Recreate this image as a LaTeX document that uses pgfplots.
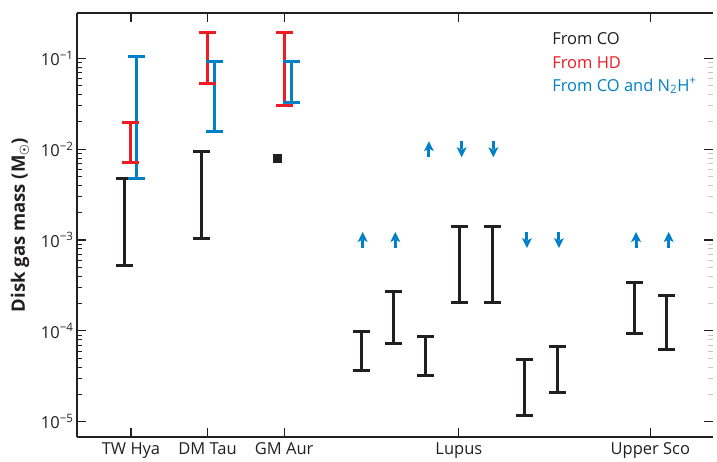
\documentclass[border=0pt]{standalone}
\usepackage{amsmath}
\usepackage{pgfplots}
\pgfplotsset{compat=1.18}
\usepackage{fontspec}
\setmainfont{Open Sans}
\usetikzlibrary{calc}
\definecolor{cblack}{HTML}{231F20}
\definecolor{cred}{HTML}{ED1C24}
\definecolor{cblue}{HTML}{0080C6}

\pgfdeclareplotmark{uarr}{%
  \pgfsetlinewidth{3pt}%
  \pgfpathmoveto{\pgfpoint{0pt}{-8pt}}\pgfpathlineto{\pgfpoint{0pt}{0pt}}\pgfusepathqstroke
  \pgfpathmoveto{\pgfpoint{0pt}{8pt}}\pgfpathlineto{\pgfpoint{-5pt}{-2pt}}%
  \pgfpathlineto{\pgfpoint{0pt}{0.5pt}}\pgfpathlineto{\pgfpoint{5pt}{-2pt}}\pgfpathclose\pgfusepathqfill}
\pgfdeclareplotmark{darr}{%
  \pgfsetlinewidth{3pt}%
  \pgfpathmoveto{\pgfpoint{0pt}{8pt}}\pgfpathlineto{\pgfpoint{0pt}{0pt}}\pgfusepathqstroke
  \pgfpathmoveto{\pgfpoint{0pt}{-8pt}}\pgfpathlineto{\pgfpoint{-5pt}{2pt}}%
  \pgfpathlineto{\pgfpoint{0pt}{-0.5pt}}\pgfpathlineto{\pgfpoint{5pt}{2pt}}\pgfpathclose\pgfusepathqfill}

\newcommand{\fs}{\fontsize{16.5}{19}\selectfont}
\newcommand{\fl}{\fontsize{18.5}{21}\selectfont}

\begin{document}
\begin{tikzpicture}
\begin{axis}[
  scale only axis, width=636pt, height=424pt,
  ymode=log, ymin=6.78e-6, ymax=0.316,
  xmin=0.295, xmax=8.598,
  xtick={1,2,3,5.28,7.78},
  xticklabels={TW Hya, DM Tau, GM Aur, Lupus, Upper Sco},
  ytick={1e-5,1e-4,1e-3,1e-2,1e-1},
  yticklabels={10\textsuperscript{−5},10\textsuperscript{−4},10\textsuperscript{−3},10\textsuperscript{−2},10\textsuperscript{−1}},
  ytick pos=left,
  tick align=inside,
  major tick length=9pt, minor tick length=5pt,
  every tick/.style={cblack, line width=1.2pt},
  minor tick style={line width=0.8pt},
  separate axis lines,
  x axis line style={cblack, line width=1.3pt},
  y axis line style={draw=none},
  ticklabel style={font=\fs, text=cblack},
  xticklabel style={yshift=-2pt},
  ylabel={\bfseries Disk gas mass (M$_{\boldsymbol{\odot}}$)},
  ylabel style={font=\fl, text=cblack, at={(axis description cs:-0.0896,0.5)}, anchor=center},
  clip=false,
]
\draw[cblack, line width=1.3pt] (rel axis cs:0,0) -- (rel axis cs:0,1);
% From CO (black)
\addplot[cblack, line width=3pt, mark=-, mark size=8.5pt, unbounded coords=jump] coordinates {
(0.913,5.2e-4) (0.913,4.8e-3) (nan,nan)
(1.914,1.05e-3) (1.914,9.5e-3) (nan,nan)
(4.003,3.69e-5) (4.003,9.75e-5) (nan,nan)
(4.433,7.3e-5) (4.433,2.74e-4) (nan,nan)
(4.851,3.19e-5) (4.851,8.65e-5) (nan,nan)
(5.282,2.07e-4) (5.282,1.41e-3) (nan,nan)
(5.713,2.07e-4) (5.713,1.41e-3) (nan,nan)
(6.140,1.16e-5) (6.140,4.88e-5) (nan,nan)
(6.570,2.11e-5) (6.570,6.78e-5) (nan,nan)
(7.567,9.44e-5) (7.567,3.44e-4) (nan,nan)
(7.993,6.3e-5) (7.993,2.42e-4)
};
\addplot[cblack, only marks, mark=square*, mark size=4pt] coordinates {(2.91,8.0e-3)};
% From HD (red)
\addplot[cred, line width=3pt, mark=-, mark size=8.5pt, unbounded coords=jump] coordinates {
(0.987,7.2e-3) (0.987,1.95e-2) (nan,nan)
(2.001,5.25e-2) (2.001,0.191) (nan,nan)
(3.0,3.05e-2) (3.0,0.191)
};
% From CO and N2H+ (blue)
\addplot[cblue, line width=3pt, mark=-, mark size=8.5pt, unbounded coords=jump] coordinates {
(1.074,4.8e-3) (1.074,0.106) (nan,nan)
(2.084,1.55e-2) (2.084,0.093) (nan,nan)
(3.089,3.24e-2) (3.089,0.093)
};
\addplot[cblue, only marks, mark=uarr, mark options={fill=cblue}] coordinates {
(4.025,1e-3) (4.45,1e-3) (7.593,1e-3) (8.02,1e-3) (4.89,1e-2)};
\addplot[cblue, only marks, mark=darr, mark options={fill=cblue}] coordinates {
(6.169,1e-3) (6.587,1e-3) (5.317,1e-2) (5.73,1e-2)};
\node[anchor=west, inner sep=0, font=\fs, text=cblack] at (rel axis cs:0.747,0.939) {From CO};
\node[anchor=west, inner sep=0, font=\fs, text=cred] at (rel axis cs:0.747,0.883) {From HD};
\node[anchor=west, inner sep=0, font=\fs, text=cblue] at (rel axis cs:0.747,0.828) {From CO and N\textsubscript{2}H\textsuperscript{+}};
\end{axis}
% right-hand ticks: dark major, light minor
\begin{axis}[
  scale only axis, width=636pt, height=424pt,
  ymode=log, ymin=6.78e-6, ymax=0.316,
  xmin=0.295, xmax=8.598,
  axis x line=none,
  axis y line*=right,
  y axis line style={draw=none},
  ytick={1e-5,1e-4,1e-3,1e-2,1e-1},
  yticklabels={},
  tick align=inside,
  major tick length=9pt, minor tick length=5pt,
  every tick/.style={cblack, line width=1.2pt},
  minor tick style={gray!45, line width=0.8pt},
]
\end{axis}
\pgfresetboundingbox
\path ($(current axis.south west)+(-77pt,-25pt)$) rectangle ($(current axis.north east)+(4pt,13pt)$);
\end{tikzpicture}
\end{document}
